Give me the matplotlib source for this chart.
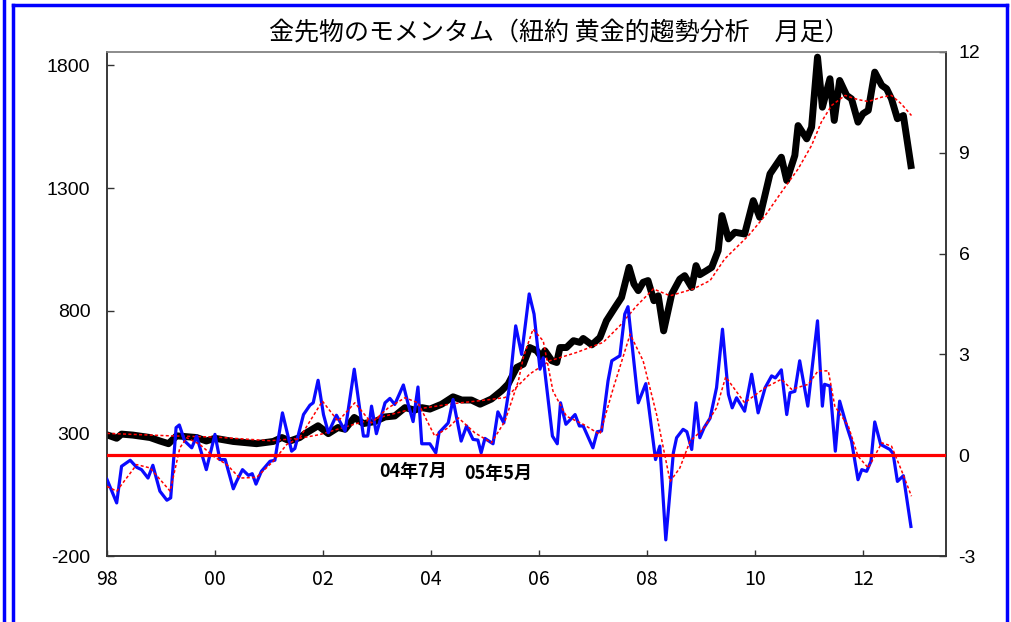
import matplotlib
matplotlib.use("Agg")
import matplotlib.pyplot as plt
from matplotlib.lines import Line2D

plt.rcParams['font.family'] = ['Noto Sans CJK JP', 'DejaVu Sans']

# gold futures monthly close (left axis), vertices
price_t = [1998.00, 1998.18, 1998.27, 1998.48, 1998.80, 1998.98, 1999.14, 1999.29, 1999.66, 1999.84,
           2000.00, 2000.34, 2000.77, 2001.08, 2001.24, 2001.39, 2001.57, 2001.67, 2001.91, 2002.10,
           2002.28, 2002.41, 2002.58, 2002.75, 2002.96, 2003.15, 2003.33, 2003.52, 2003.70, 2003.83,
           2003.98, 2004.20, 2004.41, 2004.57, 2004.75, 2004.91, 2005.12, 2005.31, 2005.43, 2005.59,
           2005.71, 2005.83, 2005.96, 2006.05, 2006.11, 2006.24, 2006.33, 2006.39, 2006.51, 2006.64,
           2006.76, 2006.82, 2006.98, 2007.13, 2007.25, 2007.41, 2007.53, 2007.67, 2007.76, 2007.84,
           2007.93, 2008.02, 2008.13, 2008.21, 2008.31, 2008.46, 2008.61, 2008.70, 2008.83, 2008.91,
           2008.98, 2009.10, 2009.20, 2009.32, 2009.39, 2009.51, 2009.63, 2009.81, 2009.97, 2010.09,
           2010.28, 2010.49, 2010.59, 2010.74, 2010.80, 2010.96, 2011.05, 2011.16, 2011.25, 2011.39,
           2011.47, 2011.57, 2011.70, 2011.79, 2011.91, 2012.00, 2012.10, 2012.22, 2012.35, 2012.44,
           2012.53, 2012.64, 2012.75, 2012.89]
price_v = [294, 280, 297, 293, 283, 269, 258, 290, 283, 269,
           280, 267, 258, 267, 283, 269, 283, 299, 331, 299,
           324, 317, 365, 340, 348, 367, 371, 405, 395, 405,
           399, 419, 449, 436, 436, 419, 440, 474, 501, 569,
           582, 650, 637, 610, 637, 596, 589, 650, 650, 678,
           671, 687, 661, 691, 759, 814, 854, 977, 909, 882,
           916, 923, 841, 861, 718, 868, 929, 943, 895, 984,
           947, 963, 977, 1045, 1188, 1093, 1120, 1113, 1249, 1181,
           1358, 1426, 1331, 1433, 1555, 1501, 1548, 1834, 1630, 1746,
           1576, 1739, 1678, 1664, 1569, 1603, 1617, 1773, 1719, 1705,
           1664, 1583, 1596, 1392]

# moving average of price (red dotted, left axis)
price_ma_t = [1998.00, 1999.17, 2000.00, 2001.02, 2001.57, 2001.94, 2002.59, 2003.52, 2004.44, 2005.06,
              2005.37, 2005.46, 2005.83, 2006.20, 2006.70, 2007.19, 2007.50, 2007.81, 2008.12, 2008.43,
              2008.86, 2009.17, 2009.44, 2009.88, 2010.19, 2010.49, 2010.80, 2011.05, 2011.23, 2011.42,
              2011.67, 2011.91, 2012.10, 2012.35, 2012.53, 2012.71, 2012.90]
price_ma_v = [300, 290, 285, 270, 280, 295, 338, 392, 422, 437,
              446, 461, 542, 596, 630, 671, 739, 820, 889, 861,
              889, 923, 1011, 1106, 1188, 1283, 1378, 1474, 1569, 1637,
              1678, 1661, 1653, 1671, 1678, 1644, 1596]

# momentum (blue, right axis)
mom_t = [1998.00, 1998.18, 1998.27, 1998.43, 1998.55, 1998.64, 1998.76, 1998.85, 1998.98, 1999.11,
         1999.18, 1999.28, 1999.34, 1999.44, 1999.57, 1999.66, 1999.84, 2000.00, 2000.09, 2000.19,
         2000.34, 2000.40, 2000.51, 2000.62, 2000.69, 2000.76, 2000.86, 2001.02, 2001.11, 2001.25,
         2001.42, 2001.48, 2001.64, 2001.76, 2001.82, 2001.91, 2002.01, 2002.10, 2002.25, 2002.41,
         2002.58, 2002.75, 2002.83, 2002.90, 2002.99, 2003.15, 2003.24, 2003.33, 2003.49, 2003.58,
         2003.67, 2003.76, 2003.83, 2003.98, 2004.09, 2004.15, 2004.32, 2004.41, 2004.56, 2004.66,
         2004.78, 2004.87, 2004.93, 2005.00, 2005.15, 2005.24, 2005.35, 2005.46, 2005.57, 2005.68,
         2005.82, 2005.91, 2006.02, 2006.08, 2006.25, 2006.34, 2006.40, 2006.50, 2006.67, 2006.75,
         2006.82, 2007.00, 2007.08, 2007.16, 2007.28, 2007.35, 2007.50, 2007.59, 2007.65, 2007.84,
         2007.98, 2008.16, 2008.24, 2008.35, 2008.49, 2008.55, 2008.67, 2008.74, 2008.83, 2008.91,
         2008.98, 2009.06, 2009.17, 2009.29, 2009.40, 2009.51, 2009.58, 2009.66, 2009.81, 2009.94,
         2010.06, 2010.19, 2010.31, 2010.38, 2010.49, 2010.59, 2010.65, 2010.74, 2010.83, 2010.98,
         2011.16, 2011.25, 2011.29, 2011.39, 2011.49, 2011.57, 2011.70, 2011.79, 2011.91, 2011.98,
         2012.07, 2012.15, 2012.22, 2012.33, 2012.50, 2012.56, 2012.64, 2012.75, 2012.89]
mom_v = [-0.72, -1.42, -0.33, -0.15, -0.36, -0.43, -0.68, -0.30, -1.07, -1.34,
         -1.27, 0.82, 0.90, 0.42, 0.22, 0.57, -0.43, 0.62, -0.13, -0.13,
         -1.00, -0.78, -0.43, -0.60, -0.55, -0.86, -0.48, -0.18, -0.15, 1.26,
         0.12, 0.20, 1.21, 1.49, 1.56, 2.23, 1.21, 0.67, 1.19, 0.72,
         2.56, 0.57, 0.57, 1.46, 0.64, 1.56, 1.69, 1.51, 2.09, 1.51,
         1.00, 2.03, 0.34, 0.34, 0.07, 0.67, 0.96, 1.66, 0.42, 0.87,
         0.47, 0.45, 0.07, 0.50, 0.34, 1.29, 0.96, 2.10, 3.85, 3.00,
         4.80, 4.20, 2.56, 2.90, 0.57, 0.34, 1.56, 0.92, 1.21, 0.87,
         0.87, 0.22, 0.70, 0.72, 2.21, 2.81, 2.96, 4.20, 4.42, 1.56,
         2.13, -0.13, 0.27, -2.52, 0.07, 0.52, 0.77, 0.70, 0.17, 1.56,
         0.52, 0.82, 1.10, 2.01, 3.75, 1.81, 1.41, 1.71, 1.31, 2.41,
         1.26, 2.01, 2.36, 2.30, 2.54, 1.21, 1.86, 1.90, 2.81, 1.46,
         4.00, 1.46, 2.11, 2.06, 0.12, 1.61, 0.87, 0.42, -0.73, -0.43,
         -0.48, -0.18, 0.99, 0.32, 0.17, 0.05, -0.78, -0.61, -2.12]

# moving average of momentum (red dotted, right axis)
mom_ma_t = [1998.00, 1998.18, 1998.55, 1998.80, 1999.17, 1999.35, 1999.48, 1999.72, 1999.97, 2000.22,
            2000.46, 2000.77, 2001.08, 2001.33, 2001.57, 2001.99, 2002.28, 2002.59, 2002.90, 2003.21,
            2003.52, 2003.76, 2004.07, 2004.32, 2004.51, 2004.81, 2005.12, 2005.37, 2005.62, 2005.71,
            2005.89, 2006.08, 2006.26, 2006.51, 2006.82, 2007.13, 2007.38, 2007.69, 2007.93, 2008.18,
            2008.43, 2008.61, 2008.80, 2009.04, 2009.29, 2009.46, 2009.81, 2010.19, 2010.49, 2010.68,
            2010.99, 2011.17, 2011.36, 2011.48, 2011.73, 2011.91, 2012.10, 2012.35, 2012.53, 2012.71,
            2012.90]
mom_ma_v = [-0.93, -1.07, -0.28, -0.38, -1.07, 0.22, 0.52, 0.32, -0.03, -0.28,
            -0.68, -0.66, -0.18, 0.32, 0.52, 1.61, 1.01, 1.56, 0.96, 1.41,
            1.71, 1.56, 0.57, 0.82, 1.11, 0.67, 0.37, 1.01, 2.21, 2.90,
            3.75, 3.40, 1.91, 1.16, 0.92, 0.62, 2.01, 3.60, 2.81, 1.21,
            -0.78, -0.38, 0.42, 0.77, 1.41, 2.33, 1.56, 2.01, 2.26, 1.96,
            2.11, 2.51, 2.51, 1.46, 0.87, -0.03, -0.38, 0.37, 0.27, -0.43,
            -1.22]

year_ticks = [1998, 2000, 2002, 2004, 2006, 2008, 2010, 2012]
year_labels = ['98', '00', '02', '04', '06', '08', '10', '12']
left_ticks = [-200, 300, 800, 1300, 1800]
right_ticks = [-3, 0, 3, 6, 9, 12]

title = '金先物のモメンタム（紐約 黄金的趨勢分析　月足）'
notes = [('04年7月', 2003.05, -0.48), ('05年5月', 2004.62, -0.54)]

fig = plt.figure(figsize=(10.12, 6.22), dpi=100)
ax1 = fig.add_axes([0.1057, 0.1061, 0.8291, 0.8103])
ax2 = ax1.twinx()

ax1.plot(price_t, price_v, color='black', lw=5, solid_joinstyle='round', zorder=3)
ax1.plot(price_ma_t, price_ma_v, color='red', lw=1.1, ls=(0, (2, 1.5)), zorder=4)

ax2.plot(mom_t, mom_v, color='#0a0aff', lw=2.3, solid_joinstyle='round', zorder=3)
ax2.plot(mom_ma_t, mom_ma_v, color='red', lw=1.1, ls=(0, (2, 1.5)), zorder=4)
ax2.axhline(0, color='red', lw=2.3, zorder=5)

ax1.set_xlim(1998, 2013.54)
ax1.set_ylim(-200, 1855)
ax2.set_ylim(-3, 12)

ax1.set_xticks(year_ticks)
ax1.set_xticklabels(year_labels, fontsize=14)
ax1.set_yticks(left_ticks)
ax1.set_yticklabels([str(v) for v in left_ticks], family='Liberation Sans', fontsize=14)
ax2.set_yticks(right_ticks)
ax2.set_yticklabels([str(v) for v in right_ticks], family='Liberation Sans', fontsize=14)

ax1.tick_params(axis='x', direction='in', length=4, width=1, pad=9, color='#333333')
ax1.tick_params(axis='y', direction='in', length=5, width=1, pad=12, color='#333333')
ax2.tick_params(axis='y', direction='in', length=5, width=1, pad=9, color='#333333')

for ax in (ax1, ax2):
    for side in ('left', 'right', 'bottom'):
        ax.spines[side].set_color('#333333')
        ax.spines[side].set_linewidth(1.1)
    ax.spines['top'].set_color('#888888')
    ax.spines['top'].set_linewidth(1.1)

for text, x, y in notes:
    ax2.text(x, y, text, fontsize=13, fontweight='bold', ha='left', va='center', zorder=6)

fig.text(0.553, 0.947, title, fontsize=18, ha='center', va='center')

# blue frame around the chart
frame = dict(color='#0000ff', lw=2.5, transform=fig.transFigure)
fig.add_artist(Line2D([4 / 1012, 4 / 1012], [0, 1], **frame))
fig.add_artist(Line2D([13 / 1012, 13 / 1012], [0, 1 - 5 / 622], **frame))
fig.add_artist(Line2D([13 / 1012, 1007 / 1012], [1 - 5 / 622, 1 - 5 / 622], **frame))
fig.add_artist(Line2D([1007 / 1012, 1007 / 1012], [0, 1 - 5 / 622], **frame))

fig.savefig('out.png', dpi=100)
